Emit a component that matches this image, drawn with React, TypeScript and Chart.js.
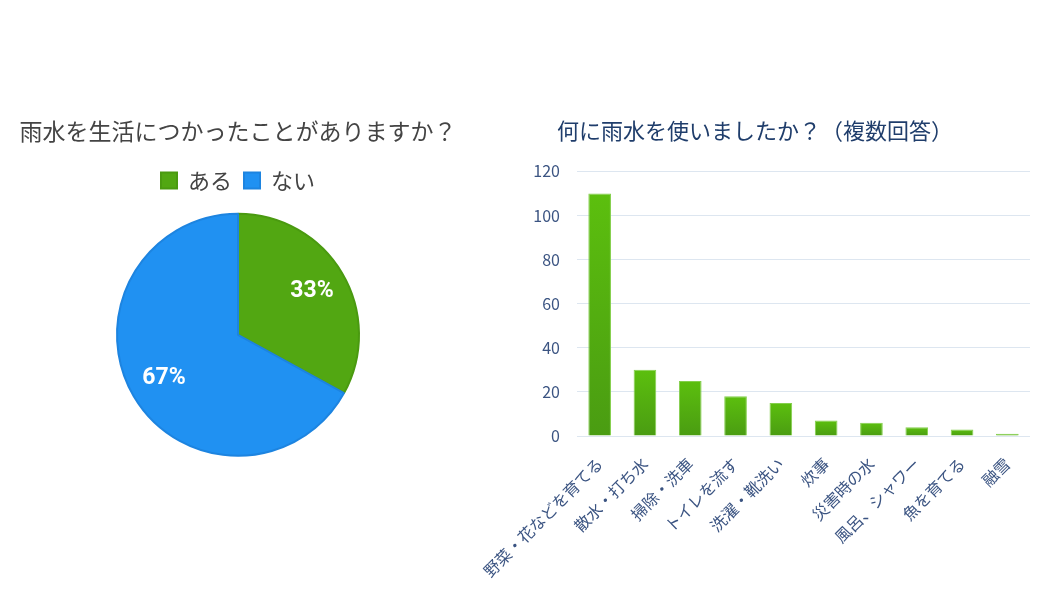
import { useEffect, useRef } from "react";
import { Chart, registerables } from "chart.js";
import type { ChartConfiguration, Plugin } from "chart.js";

Chart.register(...registerables);

// pie: 雨水を生活につかったことがありますか？
const pieLabels = ["ある", "ない"];
const pieValues = [33, 67];
const pieColors = ["#52a712", "#2091f2"];
const pieBorderColors = ["#4a9a10", "#1d84e0"];

// bars: 何に雨水を使いましたか？（複数回答）
const usageLabels = [
  "野菜・花などを育てる",
  "散水・打ち水",
  "掃除・洗車",
  "トイレを流す",
  "洗濯・靴洗い",
  "炊事",
  "災害時の水",
  "風呂、シャワー",
  "魚を育てる",
  "融雪",
];
const usageCounts = [110, 30, 25, 18, 15, 7, 6, 4, 3, 1];
const yMin = 0;
const yMax = 120;
const yStep = 20;

const JP_FONT = "'Noto Sans CJK JP', 'Noto Sans', sans-serif";

// draws the percentage text inside each slice
const pieLabelPlugin: Plugin<"pie"> = {
  id: "pieLabels",
  afterDatasetsDraw(chart) {
    const ctx = chart.ctx;
    const meta = chart.getDatasetMeta(0);
    const total = pieValues.reduce((a, b) => a + b, 0);
    ctx.save();
    ctx.fillStyle = "#ffffff";
    ctx.font = "bold 23px Roboto, sans-serif";
    ctx.textAlign = "center";
    ctx.textBaseline = "middle";
    meta.data.forEach((arc: any, i) => {
      const { x, y, startAngle, endAngle, outerRadius } = arc.getProps(
        ["x", "y", "startAngle", "endAngle", "outerRadius"],
        true
      );
      const mid = (startAngle + endAngle) / 2;
      const r = outerRadius * 0.71;
      const pct = Math.round((pieValues[i] / total) * 100);
      ctx.fillText(`${pct}%`, x + Math.cos(mid) * r, y + Math.sin(mid) * r);
    });
    ctx.restore();
  },
};

function UsedRainwaterPie() {
  const canvasRef = useRef<HTMLCanvasElement>(null);
  const chartRef = useRef<Chart | null>(null);

  useEffect(() => {
    if (!canvasRef.current) return;
    if (chartRef.current) chartRef.current.destroy();

    const config: ChartConfiguration<"pie"> = {
      type: "pie",
      data: {
        labels: pieLabels,
        datasets: [
          {
            data: pieValues,
            backgroundColor: pieColors,
            borderColor: pieBorderColors,
            borderWidth: 2,
            radius: 121,
          },
        ],
      },
      options: {
        responsive: true,
        maintainAspectRatio: false,
        animation: false,
        layout: { padding: { top: 117, bottom: 129, left: 0, right: 0 } },
        plugins: {
          title: {
            display: true,
            text: "雨水を生活につかったことがありますか？",
            color: "#444444",
            font: { family: JP_FONT, size: 23, weight: "normal" },
            padding: { top: 0, bottom: 13 },
          },
          legend: {
            display: true,
            position: "top",
            labels: {
              color: "#444444",
              boxWidth: 16,
              boxHeight: 16,
              padding: 12,
              font: { family: JP_FONT, size: 22 },
            },
          },
          tooltip: { enabled: false },
        },
      },
      plugins: [pieLabelPlugin],
    };

    chartRef.current = new Chart(canvasRef.current, config);

    return () => {
      if (chartRef.current) {
        chartRef.current.destroy();
        chartRef.current = null;
      }
    };
  }, []);

  return (
    <div style={{ position: "absolute", left: 0, top: 0, width: 476, height: 597 }}>
      <canvas ref={canvasRef}></canvas>
    </div>
  );
}

function RainwaterUsageBar() {
  const canvasRef = useRef<HTMLCanvasElement>(null);
  const chartRef = useRef<Chart | null>(null);

  useEffect(() => {
    if (!canvasRef.current) return;
    if (chartRef.current) chartRef.current.destroy();

    const config: ChartConfiguration<"bar"> = {
      type: "bar",
      data: {
        labels: usageLabels,
        datasets: [
          {
            data: usageCounts,
            // vertical gradient on every bar, lighter at the top
            backgroundColor: (ctx: any) => {
              const chart = ctx.chart;
              const yScale = chart.scales?.y;
              if (!chart.chartArea || !yScale || ctx.raw == null) return "#56b412";
              const top = yScale.getPixelForValue(ctx.raw);
              const bottom = yScale.getPixelForValue(0);
              const g = chart.ctx.createLinearGradient(0, top, 0, Math.max(bottom, top + 1));
              g.addColorStop(0, "#5cbf0e");
              g.addColorStop(1, "#4a9c12");
              return g;
            },
            borderColor: "#84cf4c",
            borderWidth: 1,
            barPercentage: 0.5,
            categoryPercentage: 1,
          },
        ],
      },
      options: {
        responsive: true,
        maintainAspectRatio: false,
        animation: false,
        layout: { padding: { top: 117, bottom: 11, left: 0, right: 10 } },
        scales: {
          x: {
            grid: { display: false },
            border: { display: false },
            ticks: {
              color: "#3b5482",
              font: { family: JP_FONT, size: 16 },
              minRotation: 45,
              maxRotation: 45,
              autoSkip: false,
              padding: 10,
            },
            afterFit: (scale: any) => {
              scale.height = 150;
              // rotated labels may spill left into the y-axis gutter
              scale.paddingLeft = 0;
              scale.paddingRight = 0;
            },
          },
          y: {
            min: yMin,
            max: yMax,
            grid: { color: "#dde6f0", drawTicks: false },
            border: { display: false },
            ticks: {
              stepSize: yStep,
              color: "#3b5482",
              font: { family: JP_FONT, size: 16 },
              padding: 17,
            },
            afterFit: (scale) => {
              scale.width = 97;
            },
          },
        },
        plugins: {
          title: {
            display: true,
            text: "何に雨水を使いましたか？（複数回答）",
            color: "#1f3d6b",
            font: { family: JP_FONT, size: 22, weight: "normal" },
            padding: { top: 0, bottom: 28 },
          },
          legend: { display: false },
          tooltip: { enabled: false },
        },
      },
    };

    chartRef.current = new Chart(canvasRef.current, config);

    return () => {
      if (chartRef.current) {
        chartRef.current.destroy();
        chartRef.current = null;
      }
    };
  }, []);

  return (
    <div style={{ position: "absolute", left: 480, top: 0, width: 560, height: 597 }}>
      <canvas ref={canvasRef}></canvas>
    </div>
  );
}

export default function App() {
  return (
    <div
      style={{
        position: "absolute",
        left: 0,
        top: 0,
        width: 1040,
        height: 597,
        background: "#ffffff",
        overflow: "hidden",
      }}
    >
      <UsedRainwaterPie />
      <RainwaterUsageBar />
    </div>
  );
}
